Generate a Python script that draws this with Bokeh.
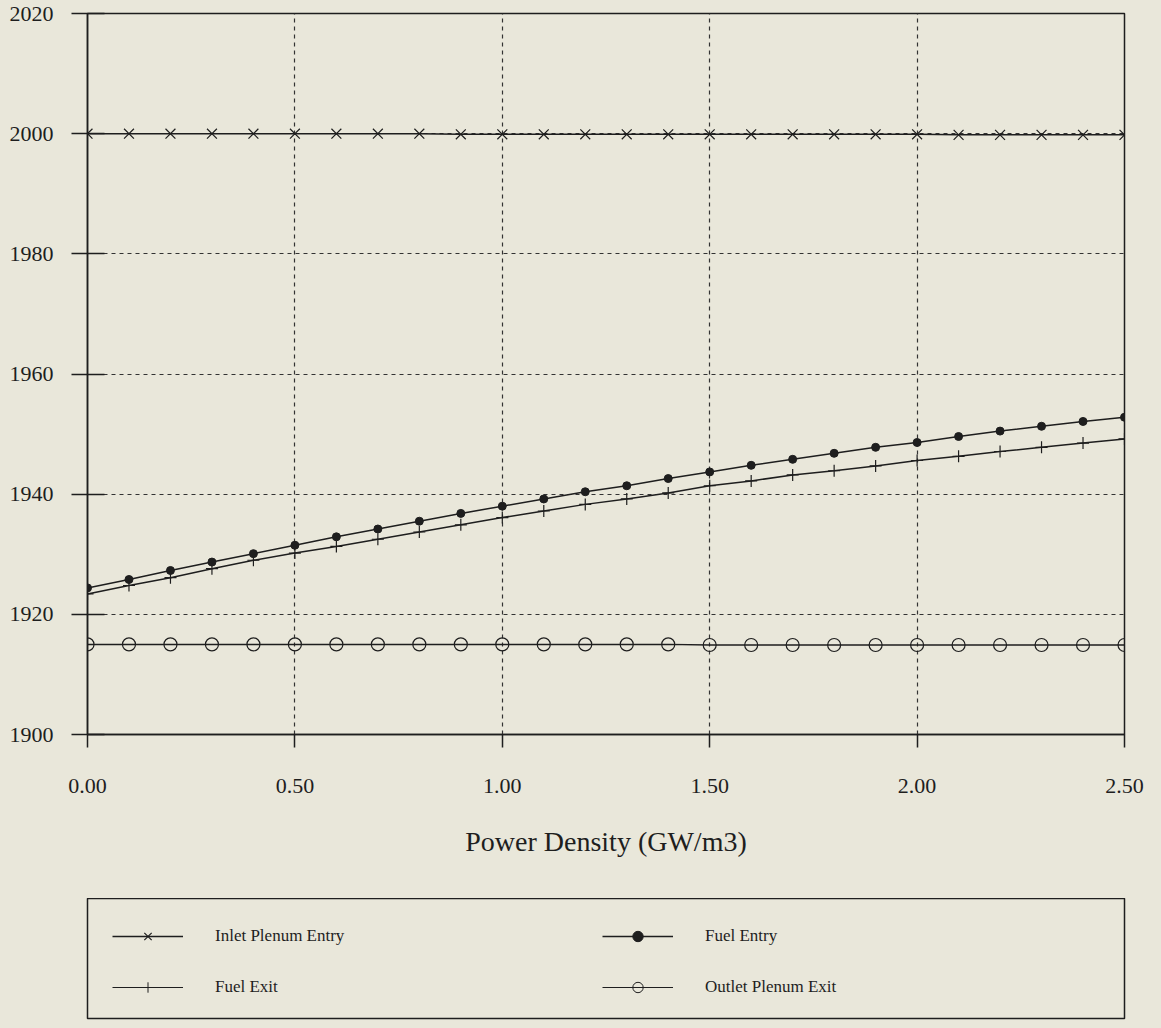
from bokeh.plotting import figure
from bokeh.models import Range1d, FixedTicker, NumeralTickFormatter, Legend, LegendItem
from bokeh.layouts import column
from bokeh.embed import file_html
from bokeh.resources import INLINE

# ---- data ----
power = [0.0, 0.1, 0.2, 0.3, 0.4, 0.5, 0.6, 0.7, 0.8, 0.9, 1.0, 1.1, 1.2,
         1.3, 1.4, 1.5, 1.6, 1.7, 1.8, 1.9, 2.0, 2.1, 2.2, 2.3, 2.4, 2.5]
inlet_plenum_entry = [2000.0, 2000.0, 2000.0, 2000.0, 2000.0, 2000.0, 2000.0, 2000.0, 2000.0,
                      1999.9, 1999.9, 1999.9, 1999.9, 1999.9, 1999.9, 1999.9, 1999.9, 1999.9,
                      1999.9, 1999.9, 1999.9, 1999.8, 1999.8, 1999.8, 1999.8, 1999.8]
fuel_entry = [1924.4, 1925.8, 1927.3, 1928.7, 1930.1, 1931.5, 1932.9, 1934.2, 1935.5,
              1936.8, 1938.0, 1939.2, 1940.4, 1941.4, 1942.6, 1943.7, 1944.8, 1945.8,
              1946.8, 1947.8, 1948.6, 1949.6, 1950.5, 1951.3, 1952.1, 1952.8]
fuel_exit = [1923.4, 1924.8, 1926.1, 1927.6, 1929.0, 1930.2, 1931.3, 1932.5, 1933.7,
             1934.9, 1936.1, 1937.2, 1938.3, 1939.2, 1940.2, 1941.4, 1942.2, 1943.2,
             1943.9, 1944.7, 1945.6, 1946.3, 1947.1, 1947.8, 1948.5, 1949.2]
outlet_plenum_exit = [1915.0, 1915.0, 1915.0, 1915.0, 1915.0, 1915.0, 1915.0, 1915.0, 1915.0,
                      1915.0, 1915.0, 1915.0, 1915.0, 1915.0, 1915.0, 1914.9, 1914.9, 1914.9,
                      1914.9, 1914.9, 1914.9, 1914.9, 1914.9, 1914.9, 1914.9, 1914.9]
x_ticks = [0.0, 0.5, 1.0, 1.5, 2.0, 2.5]
y_ticks = [1900, 1920, 1940, 1960, 1980, 2000, 2020]
x_label = "Power Density (GW/m3)"
series_names = ["Inlet Plenum Entry", "Fuel Entry", "Fuel Exit", "Outlet Plenum Exit"]

BG = "#e9e7da"
INK = "#1e1e1e"
FONT = "Liberation Serif"

p = figure(width=1161, height=898, x_range=Range1d(0, 2.5), y_range=Range1d(1900, 2020),
           output_backend="svg", toolbar_location=None,
           min_border_left=87, min_border_right=37, min_border_top=13, min_border_bottom=164)
p.background_fill_color = BG
p.border_fill_color = BG
p.outline_line_color = INK
p.outline_line_width = 1.5
p.outline_line_alpha = 1.0

p.xaxis.ticker = FixedTicker(ticks=x_ticks)
p.yaxis.ticker = FixedTicker(ticks=y_ticks)
p.xaxis.formatter = NumeralTickFormatter(format="0.00")
p.xgrid.ticker = FixedTicker(ticks=x_ticks[1:-1])
p.ygrid.ticker = FixedTicker(ticks=y_ticks[1:-1])
for g in (p.xgrid, p.ygrid):
    g.grid_line_color = "#333333"
    g.grid_line_dash = "4 4"
    g.grid_line_width = 1.2
    g.grid_line_alpha = 1.0

for ax in (p.xaxis, p.yaxis):
    ax.axis_line_color = INK
    ax.axis_line_width = 1.5
    ax.major_tick_line_color = INK
    ax.major_tick_line_width = 1.5
    ax.minor_tick_line_color = None
    ax.major_label_text_font = FONT
    ax.major_label_text_font_size = "22px"
    ax.major_label_text_color = INK
p.yaxis.major_tick_out = 16
p.yaxis.major_tick_in = 17
p.yaxis.major_label_standoff = 18
p.xaxis.major_tick_out = 13
p.xaxis.major_tick_in = 0
p.xaxis.major_label_standoff = 31
p.xaxis.axis_label = x_label
p.xaxis.axis_label_text_font = FONT
p.xaxis.axis_label_text_font_size = "28px"
p.xaxis.axis_label_text_font_style = "normal"
p.xaxis.axis_label_text_color = INK
p.xaxis.axis_label_standoff = 30

# series
p.line(power, inlet_plenum_entry, line_color=INK, line_width=1.5)
p.scatter(power, inlet_plenum_entry, marker="x", size=14, line_color=INK, line_width=1.2)
p.line(power, fuel_entry, line_color=INK, line_width=1.5)
p.scatter(power, fuel_entry, marker="circle", size=8, fill_color=INK, line_color=INK)
p.line(power, fuel_exit, line_color=INK, line_width=1.5)
p.scatter(power, fuel_exit, marker="cross", size=12, line_color=INK, line_width=1.2)
p.line(power, outlet_plenum_exit, line_color=INK, line_width=1.5)
p.scatter(power, outlet_plenum_exit, marker="circle", size=13, fill_color=None,
          line_color=INK, line_width=1.2)

# legend panel (its frame outline is the legend box); sample glyphs sit outside its view
q = figure(width=1161, height=130, x_range=Range1d(0, 1), y_range=Range1d(0, 1),
           output_backend="svg", toolbar_location=None, x_axis_type=None, y_axis_type=None,
           min_border_left=87, min_border_right=35, min_border_top=0, min_border_bottom=10)
q.background_fill_color = BG
q.border_fill_color = BG
q.grid.visible = False
q.outline_line_color = INK
q.outline_line_width = 1.5
q.outline_line_alpha = 1.0

off = [-50.0]
l1 = q.line(off, off, line_color=INK, line_width=1.5)
m1 = q.scatter(off, off, marker="x", size=14, line_color=INK, line_width=1.2)
l2 = q.line(off, off, line_color=INK, line_width=1.5)
m2 = q.scatter(off, off, marker="circle", size=8, fill_color=INK, line_color=INK)
l3 = q.line(off, off, line_color=INK, line_width=1.2)
m3 = q.scatter(off, off, marker="cross", size=12, line_color=INK, line_width=1.0)
l4 = q.line(off, off, line_color=INK, line_width=1.2)
m4 = q.scatter(off, off, marker="circle", size=13, fill_color=None, line_color=INK, line_width=1.0)

legend = Legend(items=[
    LegendItem(label=series_names[0], renderers=[l1, m1]),
    LegendItem(label=series_names[1], renderers=[l2, m2]),
    LegendItem(label=series_names[2], renderers=[l3, m3]),
    LegendItem(label=series_names[3], renderers=[l4, m4]),
], location="top_left", orientation="horizontal", ncols=2)
legend.label_text_font = FONT
legend.label_text_font_size = "17px"
legend.label_text_color = INK
legend.glyph_width = 71
legend.glyph_height = 26
legend.label_standoff = 32
legend.label_width = 362
legend.spacing = 25
legend.padding = 25
legend.margin = 0
legend.border_line_alpha = 0
legend.background_fill_alpha = 0
q.add_layout(legend, "center")

page = column(p, q, spacing=0)
page.styles = {"background-color": BG}
open("out.html", "w").write(file_html(page, INLINE))
